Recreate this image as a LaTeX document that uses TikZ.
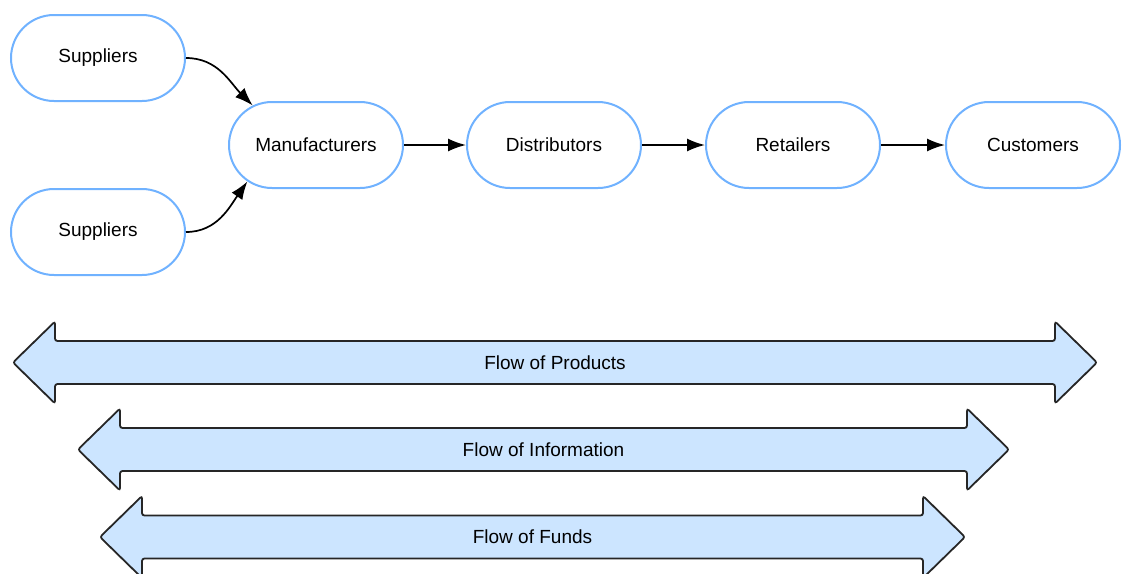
\documentclass[tikz,border=0pt]{standalone}
\usepackage{fontspec}
\setmainfont{Liberation Sans}
\usetikzlibrary{arrows.meta,shapes.misc}
\definecolor{boxblue}{HTML}{70B2FF}
\definecolor{flowblue}{HTML}{CCE5FF}
\tikzset{
  stage/.style={rounded rectangle, draw=boxblue, line width=2pt, fill=white,
    minimum width=174pt, minimum height=86pt, inner sep=0pt,
    font=\fontsize{19}{22}\selectfont},
  link/.style={line width=1.7pt, -{Latex[length=18pt,width=13pt]}},
  bigarrow/.style={draw=black!85, line width=1.8pt, fill=flowblue, rounded corners=2.5pt}
}
\begin{document}
\begin{tikzpicture}[x=1pt,y=-1pt]
\useasboundingbox (0,0) rectangle (1123,573);
% supply chain
\node[stage] (sup1) at (98,58) {Suppliers};
\node[stage] (sup2) at (98,232) {Suppliers};
\node[stage] (man) at (316,145) {Manufacturers};
\node[stage] (dis) at (554,145) {Distributors};
\node[stage] (ret) at (793,145) {Retailers};
\node[stage] (cus) at (1033,145) {Customers};
\draw[link] (sup1.east) to[out=0,in=135] (man.148);
\draw[link] (sup2.east) to[out=0,in=-125] (man.208);
\draw[link] (man) -- (dis);
\draw[link] (dis) -- (ret);
\draw[link] (ret) -- (cus);
% flows
\foreach \lx/\rx/\cy/\txt in {13/1097/362.5/Products, 78/1009/449.5/Information, 100/965/537/Funds}{
  \draw[bigarrow] (\lx,\cy) -- (\lx+42,\cy-41) -- (\lx+42,\cy-21.5) -- (\rx-42,\cy-21.5)
    -- (\rx-42,\cy-41) -- (\rx,\cy) -- (\rx-42,\cy+41) -- (\rx-42,\cy+21.5)
    -- (\lx+42,\cy+21.5) -- (\lx+42,\cy+41) -- cycle;
  \node[font=\fontsize{19}{22}\selectfont] (flow\txt) at ({(\lx+\rx)/2},\cy) {Flow of \txt};
}
\end{tikzpicture}
\end{document}
